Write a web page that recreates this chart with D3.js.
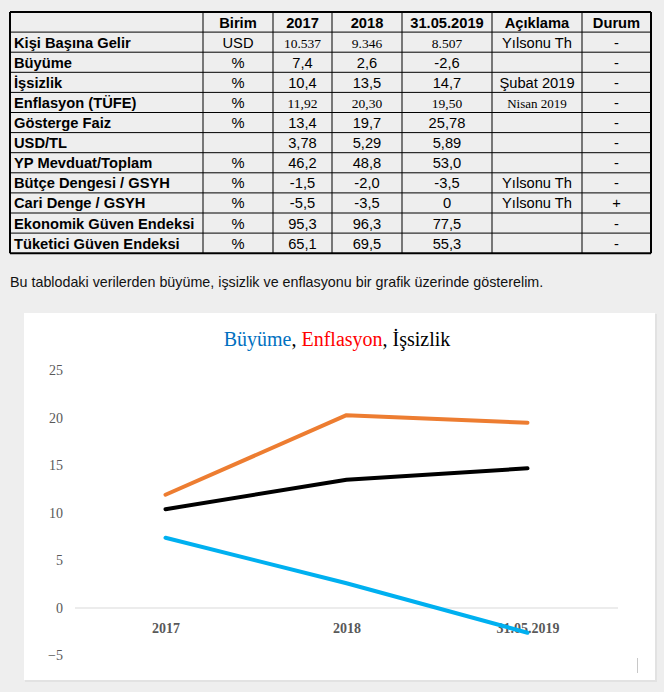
<!DOCTYPE html>
<html>
<head>
<meta charset="utf-8">
<script src="https://cdn.jsdelivr.net/npm/d3@7"></script>
<style>
  html, body { margin: 0; padding: 0; background: #eeeeee; }
  svg { display: block; }
</style>
</head>
<body>
<svg id="page" width="664" height="692"></svg>
<script>
// ---------- Table data ----------
const tableHeaders = ["", "Birim", "2017", "2018", "31.05.2019", "Açıklama", "Durum"];
const rowLabels = ["Kişi Başına Gelir", "Büyüme", "İşsizlik", "Enflasyon (TÜFE)", "Gösterge Faiz", "USD/TL",
  "YP Mevduat/Toplam", "Bütçe Dengesi / GSYH", "Cari Denge / GSYH", "Ekonomik Güven Endeksi", "Tüketici Güven Endeksi"];
const rowUnits = ["USD", "%", "%", "%", "%", "", "%", "%", "%", "%", "%"];
const col2017 = ["10.537", "7,4", "10,4", "11,92", "13,4", "3,78", "46,2", "-1,5", "-5,5", "95,3", "65,1"];
const col2018 = ["9.346", "2,6", "13,5", "20,30", "19,7", "5,29", "48,8", "-2,0", "-3,5", "96,3", "69,5"];
const col2019 = ["8.507", "-2,6", "14,7", "19,50", "25,78", "5,89", "53,0", "-3,5", "0", "77,5", "55,3"];
const rowNotes = ["Yılsonu Th", "", "Şubat 2019", "Nisan 2019", "", "", "", "Yılsonu Th", "Yılsonu Th", "", ""];
const rowStatus = ["-", "-", "-", "-", "-", "-", "-", "-", "+", "-", "-"];
const serifRows = ["Kişi Başına Gelir", "Enflasyon (TÜFE)"];

const introText = "Bu tablodaki verilerden büyüme, işsizlik ve enflasyonu bir grafik üzerinde gösterelim.";

// ---------- Chart data ----------
const categories = ["2017", "2018", "31.05.2019"];
const buyume = [7.4, 2.6, -2.6];
const enflasyon = [11.92, 20.30, 19.50];
const issizlik = [10.4, 13.5, 14.7];
const yTicks = [-5, 0, 5, 10, 15, 20, 25];
const series = [
  { name: "İşsizlik", values: issizlik, color: "#000000" },
  { name: "Enflasyon", values: enflasyon, color: "#ED7D31" },
  { name: "Büyüme", values: buyume, color: "#00B0F0" }
];
const titleParts = [
  { text: "Büyüme", color: "#0070C0" },
  { text: ", ", color: "#000000" },
  { text: "Enflasyon", color: "#FF0000" },
  { text: ", İşsizlik", color: "#000000" }
];

const svg = d3.select("#page");
const sans = "'Liberation Sans', Arial, Helvetica, sans-serif";
const serif = "'Liberation Serif', 'Times New Roman', serif";

// ---------- Table ----------
const colEdges = [10, 203, 273, 332, 402, 492, 582, 651];
const tableTop = 12, rowH = 20.1;
const nRows = rowLabels.length + 1;
const tbl = svg.append("g");

const rows = [tableHeaders].concat(rowLabels.map((l, i) =>
  [l, rowUnits[i], col2017[i], col2018[i], col2019[i], rowNotes[i], rowStatus[i]]));

rows.forEach((r, ri) => {
  const yTop = tableTop + ri * rowH;
  r.forEach((txt, ci) => {
    if (!txt) return;
    const isHeader = ri === 0;
    const isLabel = ci === 0;
    const useSerif = !isHeader && (
      (serifRows.includes(r[0]) && ci >= 2 && ci <= 4) || txt === "Nisan 2019");
    const x = isLabel ? colEdges[0] + 4 : (colEdges[ci] + colEdges[ci + 1]) / 2;
    tbl.append("text")
      .attr("x", x)
      .attr("y", yTop + 15.5)
      .attr("text-anchor", isLabel ? "start" : "middle")
      .attr("font-family", useSerif ? serif : sans)
      .attr("font-size", useSerif ? (txt === "Nisan 2019" ? 13 : 13.5) : 14.7)
      .attr("font-weight", (isHeader || isLabel) ? "bold" : "normal")
      .attr("fill", "#000")
      .text(txt);
  });
});
// grid lines
const tableBottom = tableTop + nRows * rowH;
d3.range(nRows + 1).forEach(i => {
  tbl.append("line")
    .attr("x1", colEdges[0]).attr("x2", colEdges[colEdges.length - 1])
    .attr("y1", tableTop + i * rowH).attr("y2", tableTop + i * rowH)
    .attr("stroke", "#000").attr("stroke-width", (i === 0 || i === nRows) ? 2 : 1);
});
colEdges.forEach((x, i) => {
  tbl.append("line")
    .attr("x1", x).attr("x2", x)
    .attr("y1", tableTop).attr("y2", tableBottom)
    .attr("stroke", "#000").attr("stroke-width", (i === 0 || i === colEdges.length - 1) ? 2 : 1);
});

// ---------- Intro sentence ----------
svg.append("text")
  .attr("x", 10).attr("y", 287)
  .attr("font-family", sans).attr("font-size", 14.3)
  .attr("fill", "#111")
  .text(introText);

// ---------- Chart panel ----------
svg.append("rect").attr("x", 25).attr("y", 314).attr("width", 632).attr("height", 368).attr("fill", "#e2e2e2");
svg.append("rect").attr("x", 24).attr("y", 313).attr("width", 631).attr("height", 367).attr("fill", "#ffffff");

// title
const title = svg.append("text")
  .attr("x", 337).attr("y", 346)
  .attr("text-anchor", "middle")
  .attr("font-family", serif).attr("font-size", 20);
titleParts.forEach(p => title.append("tspan").attr("fill", p.color).text(p.text));

const x = d3.scalePoint().domain(categories).range([75, 618]).padding(0.5);
const y = d3.scaleLinear().domain([-5, 25]).range([655.5, 370.5]);

// y axis labels
const yAxis = d3.axisLeft(y).tickValues(yTicks).tickSize(0).tickPadding(0).tickFormat(d3.format("d"));
const yg = svg.append("g").attr("transform", "translate(63,0)").call(yAxis);
yg.select(".domain").remove();
yg.selectAll("text").attr("font-family", serif).attr("font-size", 14).attr("fill", "#595959");

// zero line
svg.append("line")
  .attr("x1", 75).attr("x2", 618)
  .attr("y1", y(0)).attr("y2", y(0))
  .attr("stroke", "#d9d9d9").attr("stroke-width", 1);

// x axis labels
const xAxis = d3.axisBottom(x).tickSize(0).tickPadding(0);
const xg = svg.append("g").attr("transform", "translate(0,620)").call(xAxis);
xg.select(".domain").remove();
xg.selectAll("text")
  .attr("font-family", serif).attr("font-size", 14).attr("font-weight", "bold").attr("fill", "#595959")
  .attr("dy", "0.9em");

// lines
const line = d3.line().x((d, i) => x(categories[i])).y(d => y(d));
series.forEach(s => {
  svg.append("path")
    .datum(s.values)
    .attr("d", line)
    .attr("fill", "none")
    .attr("stroke", s.color)
    .attr("stroke-width", 4)
    .attr("stroke-linecap", "round")
    .attr("stroke-linejoin", "round");
});

// small artifact mark at bottom right
svg.append("line")
  .attr("x1", 637.5).attr("x2", 637.5).attr("y1", 658).attr("y2", 673)
  .attr("stroke", "#c8c8c8").attr("stroke-width", 1);
</script>
</body>
</html>
